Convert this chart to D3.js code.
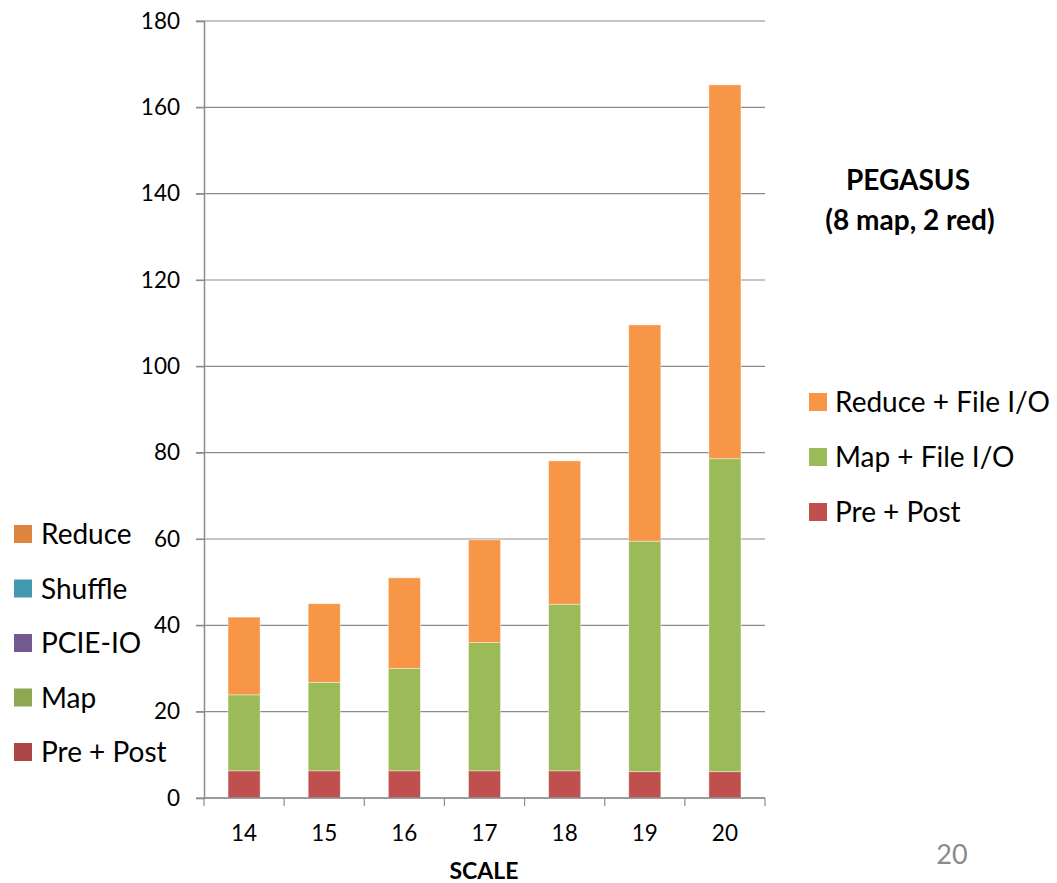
<!DOCTYPE html>
<html>
<head>
<meta charset="utf-8">
<script src="https://d3js.org/d3.v7.min.js"></script>
<style>
  body { margin: 0; background: #fff; }
  text { font-family: Lato, "Open Sans", sans-serif; }
</style>
</head>
<body>
<div id="chart"></div>
<script>
// data
const scales = ["14", "15", "16", "17", "18", "19", "20"];
const prePost = [6.3, 6.3, 6.3, 6.3, 6.3, 6.1, 6.1];
const mapIO = [17.6, 20.5, 23.7, 29.7, 38.6, 53.4, 72.5];
const reduceIO = [18.0, 18.2, 21.0, 23.8, 33.2, 50.1, 86.6];
const yTicks = [0, 20, 40, 60, 80, 100, 120, 140, 160, 180];

const seriesNames = ["Pre + Post", "Map + File I/O", "Reduce + File I/O"];
const seriesColors = ["#C0504D", "#9BBB59", "#F79646"];

const leftLegend = ["Reduce", "Shuffle", "PCIE-IO", "Map", "Pre + Post"];
const leftLegendColors = ["#DD8441", "#4299B0", "#72598F", "#8DA850", "#AA4643"];

const width = 1057, height = 883;
const margin = {top: 21, right: 292, bottom: 85, left: 204};

const svg = d3.create("svg").attr("width", width).attr("height", height);

const rows = scales.map((s, i) => ({scale: s, pre: prePost[i], map: mapIO[i], reduce: reduceIO[i]}));
const stack = d3.stack().keys(["pre", "map", "reduce"])(rows);

const x = d3.scaleBand()
  .domain(scales)
  .range([margin.left, width - margin.right])
  .paddingInner(0.6)
  .paddingOuter(0.3);

const y = d3.scaleLinear()
  .domain([0, 180])
  .range([height - margin.bottom, margin.top]);

// gridlines
svg.append("g")
  .selectAll("line")
  .data(yTicks)
  .join("line")
  .attr("x1", margin.left - 8)
  .attr("x2", width - margin.right)
  .attr("y1", d => y(d))
  .attr("y2", d => y(d))
  .attr("stroke", "#8c8c8c")
  .attr("stroke-width", 1.2);

// bars
svg.append("g")
  .selectAll("g")
  .data(stack)
  .join("g")
  .attr("fill", (d, i) => seriesColors[i])
  .selectAll("rect")
  .data(d => d)
  .join("rect")
  .attr("x", d => x(d.data.scale))
  .attr("width", x.bandwidth())
  .attr("y", d => y(d[1]))
  .attr("height", d => y(d[0]) - y(d[1]))
  .attr("stroke", "#fff")
  .attr("stroke-opacity", 0.5)
  .attr("stroke-width", 0.8);

// y axis
const yAxis = svg.append("g")
  .attr("transform", `translate(${margin.left},0)`)
  .call(d3.axisLeft(y).tickValues(yTicks).tickSize(8).tickPadding(16));
yAxis.select(".domain").attr("stroke", "#8c8c8c").attr("stroke-width", 1.5);
yAxis.selectAll(".tick line").attr("stroke", "#8c8c8c").attr("stroke-width", 1.2);
yAxis.selectAll(".tick text").attr("font-size", 22.5).attr("fill", "#000")
  .style("font-family", "Lato, 'Open Sans', sans-serif");

// x axis with ticks at band edges
const xAxisG = svg.append("g")
  .attr("transform", `translate(0,${height - margin.bottom})`);
xAxisG.append("line")
  .attr("x1", margin.left).attr("x2", width - margin.right)
  .attr("stroke", "#8c8c8c").attr("stroke-width", 1.5);
const edges = scales.map(s => x(s) - x.step() * x.paddingInner() / 2).concat([width - margin.right]);
xAxisG.selectAll(".edge")
  .data(edges)
  .join("line")
  .attr("class", "edge")
  .attr("x1", d => d).attr("x2", d => d)
  .attr("y1", 0).attr("y2", 8)
  .attr("stroke", "#8c8c8c").attr("stroke-width", 1.2);
xAxisG.selectAll(".lbl")
  .data(scales)
  .join("text")
  .attr("class", "lbl")
  .attr("x", d => x(d) + x.bandwidth() / 2)
  .attr("y", 43)
  .attr("text-anchor", "middle")
  .attr("font-size", 22.5)
  .text(d => d);

svg.append("text")
  .attr("x", 484).attr("y", 879)
  .attr("text-anchor", "middle")
  .attr("font-size", 23).attr("font-weight", "bold")
  .text("SCALE");

// title
svg.append("text")
  .attr("x", 908).attr("y", 190)
  .attr("text-anchor", "middle")
  .attr("font-size", 28).attr("font-weight", "bold")
  .text("PEGASUS");
svg.append("text")
  .attr("x", 910).attr("y", 230)
  .attr("text-anchor", "middle")
  .attr("font-size", 28).attr("font-weight", "bold")
  .text("(8 map, 2 red)");

// right legend
const rLeg = svg.append("g")
  .selectAll("g")
  .data(seriesNames.slice().reverse())
  .join("g")
  .attr("transform", (d, i) => `translate(809,${402 + i * 55})`);
rLeg.append("rect")
  .attr("x", 0).attr("y", -9).attr("width", 18).attr("height", 18)
  .attr("fill", (d, i) => seriesColors[2 - i]);
rLeg.append("text")
  .attr("x", 26).attr("y", 10)
  .attr("font-size", 28)
  .text(d => d);

// left legend
const lLeg = svg.append("g")
  .selectAll("g")
  .data(leftLegend)
  .join("g")
  .attr("transform", (d, i) => `translate(14,${534 + i * 54.5})`);
lLeg.append("rect")
  .attr("x", 0).attr("y", -9).attr("width", 18).attr("height", 18)
  .attr("fill", (d, i) => leftLegendColors[i]);
lLeg.append("text")
  .attr("x", 27).attr("y", 10)
  .attr("font-size", 28)
  .text(d => d);

// page number
svg.append("text")
  .attr("x", 952).attr("y", 864)
  .attr("text-anchor", "middle")
  .attr("font-size", 27)
  .attr("fill", "#8a8a8a")
  .text("20");

document.getElementById("chart").appendChild(svg.node());
</script>
</body>
</html>
